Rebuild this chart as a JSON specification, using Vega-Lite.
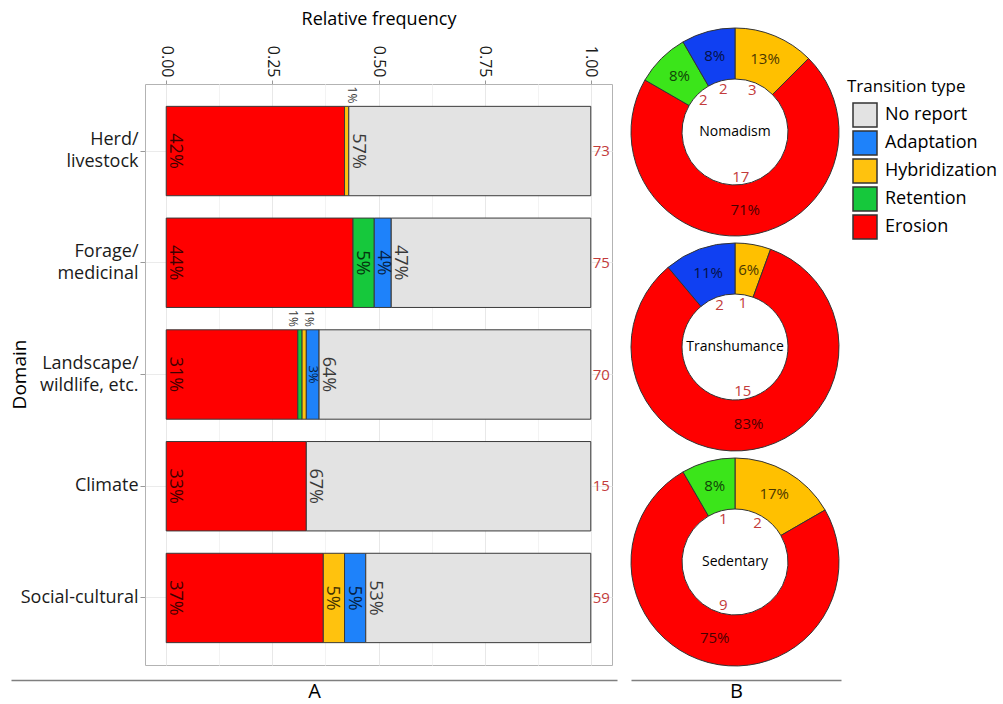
{
  "$schema": "https://vega.github.io/schema/vega-lite/v6.json",
  "padding": {"left": 9, "top": 9, "right": 0, "bottom": 0},
  "autosize": {"type": "pad"},
  "config": {
    "font": "Open Sans",
    "view": {"stroke": null},
    "axis": {"labelColor": "#1a1a1a", "titleColor": "#000000", "tickColor": "#999999", "titleFontWeight": "normal"},
    "legend": {"titleFontWeight": "normal"}
  },
  "datasets": {
    "bars": [
      {"domain": "Herd/ livestock", "type": "Erosion", "value": 0.42, "n": 73},
      {"domain": "Herd/ livestock", "type": "Hybridization", "value": 0.01, "n": 73},
      {"domain": "Herd/ livestock", "type": "No report", "value": 0.57, "n": 73},
      {"domain": "Forage/ medicinal", "type": "Erosion", "value": 0.44, "n": 75},
      {"domain": "Forage/ medicinal", "type": "Retention", "value": 0.05, "n": 75},
      {"domain": "Forage/ medicinal", "type": "Adaptation", "value": 0.04, "n": 75},
      {"domain": "Forage/ medicinal", "type": "No report", "value": 0.47, "n": 75},
      {"domain": "Landscape/ wildlife, etc.", "type": "Erosion", "value": 0.31, "n": 70},
      {"domain": "Landscape/ wildlife, etc.", "type": "Retention", "value": 0.01, "n": 70},
      {"domain": "Landscape/ wildlife, etc.", "type": "Hybridization", "value": 0.01, "n": 70},
      {"domain": "Landscape/ wildlife, etc.", "type": "Adaptation", "value": 0.03, "n": 70},
      {"domain": "Landscape/ wildlife, etc.", "type": "No report", "value": 0.64, "n": 70},
      {"domain": "Climate", "type": "Erosion", "value": 0.33, "n": 15},
      {"domain": "Climate", "type": "No report", "value": 0.67, "n": 15},
      {"domain": "Social-cultural", "type": "Erosion", "value": 0.37, "n": 59},
      {"domain": "Social-cultural", "type": "Hybridization", "value": 0.05, "n": 59},
      {"domain": "Social-cultural", "type": "Adaptation", "value": 0.05, "n": 59},
      {"domain": "Social-cultural", "type": "No report", "value": 0.53, "n": 59}
    ],
    "donuts": [
      {"regime": "Nomadism", "type": "Hybridization", "count": 3, "pct": 0.13},
      {"regime": "Nomadism", "type": "Erosion", "count": 17, "pct": 0.71},
      {"regime": "Nomadism", "type": "Retention", "count": 2, "pct": 0.08},
      {"regime": "Nomadism", "type": "Adaptation", "count": 2, "pct": 0.08},
      {"regime": "Transhumance", "type": "Hybridization", "count": 1, "pct": 0.06},
      {"regime": "Transhumance", "type": "Erosion", "count": 15, "pct": 0.83},
      {"regime": "Transhumance", "type": "Adaptation", "count": 2, "pct": 0.11},
      {"regime": "Sedentary", "type": "Hybridization", "count": 2, "pct": 0.17},
      {"regime": "Sedentary", "type": "Erosion", "count": 9, "pct": 0.75},
      {"regime": "Sedentary", "type": "Retention", "count": 1, "pct": 0.08}
    ]
  },
  "resolve": {"scale": {"color": "shared"}, "legend": {"color": "shared"}},
  "spacing": 5,
  "vconcat": [
    {
      "spacing": 16,
      "resolve": {"scale": {"color": "shared"}, "legend": {"color": "shared"}},
      "hconcat": [
        {
          "width": 467,
          "height": 581,
          "view": {"stroke": "#b3b3b3", "strokeWidth": 1},
          "data": {"name": "bars"},
          "transform": [
            {"calculate": "indexof(['Erosion','Retention','Hybridization','Adaptation','No report'], datum.type)", "as": "ord"},
            {"stack": "value", "groupby": ["domain"], "sort": [{"field": "ord", "order": "ascending"}], "as": ["x0", "x1"]}
          ],
          "encoding": {
            "y": {
              "field": "domain", "type": "nominal",
              "sort": ["Herd/ livestock", "Forage/ medicinal", "Landscape/ wildlife, etc.", "Climate", "Social-cultural"],
              "scale": {"paddingInner": 0.2, "paddingOuter": 0.2},
              "axis": {
                "title": "Domain", "titleFontSize": 19, "titleAngle": -90, "titleX": -126, "titleY": 290, "titleAlign": "center", "titleBaseline": "middle",
                "labelFontSize": 18, "labelLineHeight": 22, "labelExpr": "split(replace(datum.label, '/ ', '/|'), '|')",
                "labelOffset": {"condition": {"test": "indexof(datum.label, '/') >= 0", "value": -11}, "value": 0},
                "tickSize": 5, "labelPadding": 2, "domain": false, "grid": true, "gridColor": "#ebebeb", "bandPosition": 0.5, "labelLimit": 300
              }
            }
          },
          "layer": [
            {
              "mark": {"type": "bar", "stroke": "#3a3a3a", "strokeWidth": 1},
              "encoding": {
                "x": {
                  "field": "x0", "type": "quantitative",
                  "scale": {"domain": [-0.05, 1.05], "nice": false, "zero": false},
                  "axis": {
                    "orient": "top", "title": "Relative frequency", "titleFontSize": 18, "titlePadding": 17,
                    "values": [0, 0.125, 0.25, 0.375, 0.5, 0.625, 0.75, 0.875, 1],
                    "labelExpr": "(datum.value * 4) % 1 == 0 ? format(datum.value, '.2f') : ''",
                    "labelAngle": 90, "labelAlign": "right", "labelBaseline": "middle", "labelFontSize": 16, "labelPadding": 3,
                    "tickSize": 4,
                    "tickOpacity": {"condition": {"test": "(datum.value * 4) % 1 == 0", "value": 1}, "value": 0},
                    "grid": true,
                    "gridColor": {"condition": {"test": "(datum.value * 4) % 1 == 0", "value": "#e8e8e8"}, "value": "#f3f3f3"},
                    "domain": false
                  }
                },
                "x2": {"field": "x1"},
                "color": {
                  "field": "type", "type": "nominal",
                  "scale": {"domain": ["No report", "Adaptation", "Hybridization", "Retention", "Erosion"], "range": ["#e3e3e3", "#1e82fa", "#ffc20e", "#16c83c", "#ff0000"]},
                  "legend": {
                    "title": "Transition type", "orient": "none", "legendX": 702, "legendY": -5,
                    "titleFontSize": 17, "titlePadding": 6, "labelFontSize": 18, "labelColor": "#000000",
                    "symbolType": "square", "symbolSize": 576, "symbolStrokeColor": "#333333", "symbolStrokeWidth": 1.5, "symbolOpacity": 1,
                    "symbolOffset": 5, "rowPadding": -4, "labelOffset": 7, "padding": 0
                  }
                }
              }
            },
            {
              "transform": [{"filter": "datum.value > 0.015"}],
              "mark": {"type": "text", "angle": 90, "align": "center", "baseline": "bottom", "fill": "#000000", "opacity": 0.75},
              "encoding": {
                "x": {"field": "x0", "type": "quantitative"},
                "text": {"field": "value", "type": "quantitative", "format": ".0%"},
                "size": {"condition": {"test": "datum.value < 0.035", "value": 13}, "value": 18}
              }
            },
            {
              "transform": [{"filter": "datum.value <= 0.015 && datum.type == 'Retention'"}],
              "mark": {"type": "text", "angle": 90, "align": "right", "baseline": "top", "dx": -3, "fontSize": 12, "fill": "#000000", "opacity": 0.8},
              "encoding": {
                "x": {"field": "x0", "type": "quantitative"},
                "y": {"field": "domain", "type": "nominal", "sort": ["Herd/ livestock", "Forage/ medicinal", "Landscape/ wildlife, etc.", "Climate", "Social-cultural"], "bandPosition": 0},
                "text": {"field": "value", "type": "quantitative", "format": ".0%"}
              }
            },
            {
              "transform": [{"filter": "datum.value <= 0.015 && datum.type != 'Retention'"}],
              "mark": {"type": "text", "angle": 90, "align": "right", "baseline": "bottom", "dx": -3, "fontSize": 12, "fill": "#000000", "opacity": 0.8},
              "encoding": {
                "x": {"field": "x0", "type": "quantitative"},
                "y": {"field": "domain", "type": "nominal", "sort": ["Herd/ livestock", "Forage/ medicinal", "Landscape/ wildlife, etc.", "Climate", "Social-cultural"], "bandPosition": 0},
                "text": {"field": "value", "type": "quantitative", "format": ".0%"}
              }
            },
            {
              "transform": [{"filter": "datum.type == 'Erosion'"}],
              "mark": {"type": "text", "align": "left", "baseline": "middle", "dx": 2, "fontSize": 15, "fill": "#c33b3b"},
              "encoding": {
                "x": {"datum": 1},
                "text": {"field": "n", "type": "quantitative"}
              }
            }
          ]
        },
        {
          "data": {"name": "donuts"},
          "facet": {"row": {"field": "regime", "type": "nominal", "sort": ["Nomadism", "Transhumance", "Sedentary"], "header": {"title": null, "labels": false}}},
          "spacing": {"row": 3},
          "spec": {
            "width": 210,
            "height": 96,
            "transform": [
              {"calculate": "indexof(['Hybridization','Erosion','Retention','Adaptation'], datum.type)", "as": "ord"}
            ],
            "layer": [
              {
                "mark": {"type": "arc", "outerRadius": 104, "innerRadius": 53, "stroke": "#333333", "strokeWidth": 1},
                "encoding": {
                  "theta": {"field": "count", "type": "quantitative", "stack": true},
                  "order": {"field": "ord", "type": "quantitative"},
                  "fill": {
                    "field": "type", "type": "nominal",
                    "scale": {"domain": ["Adaptation", "Hybridization", "Retention", "Erosion"], "range": ["#1040f2", "#ffc000", "#3be51a", "#ff0000"]},
                    "legend": null
                  }
                }
              },
              {
                "mark": {"type": "text", "radius": 78.5, "fontSize": 15, "fill": "#000000", "opacity": 0.72, "align": "center", "baseline": "middle"},
                "encoding": {
                  "theta": {"field": "count", "type": "quantitative", "stack": true},
                  "order": {"field": "ord", "type": "quantitative"},
                  "text": {"field": "pct", "type": "quantitative", "format": ".0%"}
                }
              },
              {
                "mark": {"type": "text", "radius": 45, "fontSize": 15, "fill": "#c33b3b", "align": "center", "baseline": "middle"},
                "encoding": {
                  "theta": {"field": "count", "type": "quantitative", "stack": true},
                  "order": {"field": "ord", "type": "quantitative"},
                  "text": {"field": "count", "type": "quantitative"}
                }
              },
              {
                "transform": [{"filter": "datum.type == 'Erosion'"}],
                "mark": {"type": "text", "fontSize": 14, "fill": "#000000", "align": "center", "baseline": "middle"},
                "encoding": {"text": {"field": "regime", "type": "nominal"}}
              }
            ]
          }
        }
      ]
    },
    {
      "spacing": -120,
      "align": "none",
      "hconcat": [
        {
          "width": 472, "height": 1,
          "data": {"values": [{"panel": "A"}]},
          "mark": {"type": "text", "text": ""},
          "encoding": {
            "x": {"field": "panel", "type": "nominal", "scale": {"range": [-134, 472]}, "axis": {"orient": "bottom", "title": null, "ticks": false, "domain": true, "domainColor": "#7f7f7f", "domainWidth": 1.5, "labelAngle": 0, "labelFontSize": 20, "labelPadding": 1, "labelColor": "#000000"}}
          }
        },
        {
          "width": 210, "height": 1,
          "data": {"values": [{"panel": "B"}]},
          "mark": {"type": "text", "text": ""},
          "encoding": {
            "x": {"field": "panel", "type": "nominal", "axis": {"orient": "bottom", "title": null, "ticks": false, "domain": true, "domainColor": "#7f7f7f", "domainWidth": 1.5, "labelAngle": 0, "labelFontSize": 20, "labelPadding": 1, "labelColor": "#000000"}}
          }
        }
      ]
    }
  ]
}
